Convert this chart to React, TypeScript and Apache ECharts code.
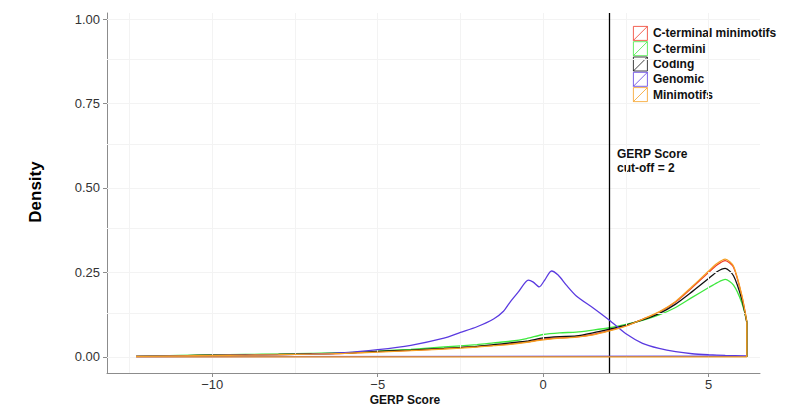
import React, { useEffect, useRef } from "react";
import * as echarts from "echarts";

// ---------- data ----------
const seriesNames = ["C-terminal minimotifs", "C-termini", "Coding", "Genomic", "Minimotifs"];
const seriesColors = ["#f03a28", "#3fe83f", "#111111", "#5a3ae0", "#f5a023"];

// shared GERP score grid for the four conserved-set curves
const gerpX = [-12.3, -11, -10, -9, -8, -7, -6, -5, -4, -3, -2, -1.5, -1, -0.5, 0, 0.5, 1, 1.5, 2, 2.5, 3, 3.5, 4, 4.5, 5, 5.25, 5.5, 5.75, 6, 6.15];
const cTermMinimotifs = [0.001, 0.003, 0.005, 0.006, 0.007, 0.008, 0.010, 0.015, 0.019, 0.024, 0.030, 0.034, 0.038, 0.044, 0.052, 0.056, 0.059, 0.066, 0.078, 0.092, 0.111, 0.132, 0.162, 0.205, 0.250, 0.272, 0.285, 0.265, 0.180, 0.106];
const cTermini = [0.001, 0.004, 0.006, 0.007, 0.008, 0.010, 0.012, 0.017, 0.022, 0.029, 0.036, 0.041, 0.046, 0.054, 0.066, 0.071, 0.073, 0.079, 0.086, 0.096, 0.108, 0.124, 0.146, 0.176, 0.205, 0.219, 0.229, 0.212, 0.160, 0.105];
const coding = [0.001, 0.003, 0.005, 0.006, 0.007, 0.009, 0.011, 0.016, 0.020, 0.025, 0.031, 0.036, 0.041, 0.046, 0.056, 0.060, 0.062, 0.071, 0.082, 0.094, 0.109, 0.128, 0.156, 0.193, 0.232, 0.252, 0.262, 0.240, 0.170, 0.102];
const minimotifs = [0.001, 0.003, 0.004, 0.005, 0.006, 0.008, 0.010, 0.014, 0.018, 0.023, 0.029, 0.033, 0.037, 0.043, 0.050, 0.055, 0.058, 0.065, 0.077, 0.091, 0.111, 0.133, 0.164, 0.208, 0.254, 0.276, 0.289, 0.268, 0.182, 0.104];

// genomic background curve (own grid, bimodal around 0)
const genomicX = [-12.3, -11, -10, -9, -8, -7, -6, -5, -4, -3, -2.5, -2, -1.5, -1.2, -1, -0.75, -0.45, -0.3, -0.12, 0.05, 0.25, 0.45, 0.7, 1, 1.5, 2, 2.5, 3, 3.5, 4, 4.5, 5, 5.5, 6.15];
const genomic = [0.001, 0.003, 0.004, 0.005, 0.006, 0.008, 0.012, 0.021, 0.034, 0.055, 0.072, 0.089, 0.112, 0.135, 0.162, 0.192, 0.227, 0.221, 0.207, 0.228, 0.254, 0.242, 0.212, 0.180, 0.145, 0.108, 0.068, 0.040, 0.025, 0.015, 0.009, 0.006, 0.004, 0.002];

const xTicks = [-10, -5, 0, 5];
const yTicks = [0, 0.25, 0.5, 0.75, 1];
const xGrid = [-12.5, -10, -7.5, -5, -2.5, 0, 2.5, 5];
const yGrid = [0, 0.125, 0.25, 0.375, 0.5, 0.625, 0.75, 0.875, 1];
const cutoff = 2;

const FONT = "'Liberation Sans', Arial, Helvetica, sans-serif";

const curveX = [gerpX, gerpX, gerpX, genomicX, gerpX];
const curveY = [cTermMinimotifs, cTermini, coding, genomic, minimotifs];

// smooth density curve
function curvePts(xs: number[], ys: number[]) {
  return xs.map((x, i) => [x, ys[i]]);
}
// straight closing part of the density outline: drop to 0, back along the baseline
function closurePts(xs: number[], ys: number[]) {
  const n = xs.length - 1;
  return [
    [xs[n], ys[n]],
    [xs[n], 0],
    [xs[0], 0],
  ];
}

export default function App() {
  const ref = useRef<HTMLDivElement>(null);
  useEffect(() => {
    if (!ref.current) return;
    const chart = echarts.init(ref.current, null, { renderer: "svg" });
    const fmtX = (v: number) => (v < 0 ? "\u2212" + Math.abs(v) : String(v));
    const curveSeries = seriesNames.map((name, i) => ({
      name,
      type: "line",
      data: curvePts(curveX[i], curveY[i]),
      showSymbol: false,
      symbol: "none",
      smooth: 0.25,
      z: 2 + i,
      color: seriesColors[i],
      lineStyle: { color: seriesColors[i], width: 1.3 },
    }));
    const closureSeries = seriesNames.map((name, i) => ({
      name,
      type: "line",
      data: closurePts(curveX[i], curveY[i]),
      showSymbol: false,
      symbol: "none",
      smooth: false,
      z: 2 + i,
      color: seriesColors[i],
      lineStyle: { color: seriesColors[i], width: 1.3 },
    }));
    chart.setOption({
      animation: false,
      backgroundColor: "#ffffff",
      grid: { left: 107, right: 28, top: 13, bottom: 44, containLabel: false },
      xAxis: {
        type: "value",
        min: -13.18,
        max: 6.55,
        axisLine: { show: true, onZero: false, lineStyle: { color: "#8c8c8c", width: 1 } },
        axisTick: { show: true, customValues: xTicks, length: 4, lineStyle: { color: "#8c8c8c" } },
        axisLabel: {
          customValues: xTicks,
          formatter: fmtX,
          margin: 5,
          color: "#333333",
          fontSize: 13,
          fontFamily: FONT,
        },
        splitLine: { show: false },
      },
      yAxis: {
        type: "value",
        min: -0.048,
        max: 1.018,
        axisLine: { show: true, onZero: false, lineStyle: { color: "#8c8c8c", width: 1 } },
        axisTick: { show: true, customValues: yTicks, length: 4, lineStyle: { color: "#8c8c8c" } },
        axisLabel: {
          customValues: yTicks,
          formatter: (v: number) => v.toFixed(2),
          margin: 7,
          color: "#333333",
          fontSize: 13,
          fontFamily: FONT,
        },
        splitLine: { show: false },
      },
      legend: {
        orient: "vertical",
        left: 633,
        top: 26,
        padding: 0,
        itemWidth: 15,
        itemHeight: 14,
        itemGap: 0.5,
        icon: "path://M0,0H14V14H0Z M0,14L14,0",
        textStyle: { fontSize: 12, fontWeight: "bold", color: "#111111", fontFamily: FONT },
        data: seriesNames.map((n, i) => ({
          name: n,
          itemStyle: { color: "transparent", borderColor: seriesColors[i], borderWidth: 0.8 },
        })),
      },
      graphic: [
        {
          type: "text",
          rotation: Math.PI / 2,
          x: 35,
          y: 192,
          style: {
            text: "Density",
            font: `bold 17px ${FONT}`,
            fill: "#000000",
            align: "center",
            verticalAlign: "middle",
          },
        },
        {
          type: "text",
          x: 405,
          y: 400,
          style: {
            text: "GERP Score",
            font: `bold 12px ${FONT}`,
            fill: "#111111",
            align: "center",
            verticalAlign: "middle",
          },
        },
        {
          type: "text",
          x: 617,
          y: 147,
          style: {
            text: "GERP Score\ncut-off = 2",
            font: `bold 12px ${FONT}`,
            lineHeight: 14,
            fill: "#111111",
            align: "left",
            verticalAlign: "top",
          },
        },
      ],
      series: [
        {
          name: "__grid",
          type: "line",
          data: [],
          silent: true,
          z: 0,
          markLine: {
            silent: true,
            symbol: "none",
            label: { show: false },
            animation: false,
            lineStyle: { color: "#f3f3f3", width: 1, type: "solid" },
            data: [
              ...xGrid.map((v) => ({ xAxis: v })),
              ...yGrid.map((v) => ({ yAxis: v })),
            ],
          },
        },
        ...curveSeries,
        ...closureSeries,
        {
          name: "__cutoff",
          type: "line",
          data: [],
          silent: true,
          z: 10,
          markLine: {
            silent: true,
            symbol: "none",
            label: { show: false },
            animation: false,
            lineStyle: { color: "#000000", width: 1.3, type: "solid" },
            data: [{ xAxis: cutoff }],
          },
        },
      ],
    });
    return () => chart.dispose();
  }, []);
  return (
    <div
      ref={ref}
      style={{ position: "fixed", left: 0, top: 0, width: 788, height: 417, background: "#fff" }}
    />
  );
}
